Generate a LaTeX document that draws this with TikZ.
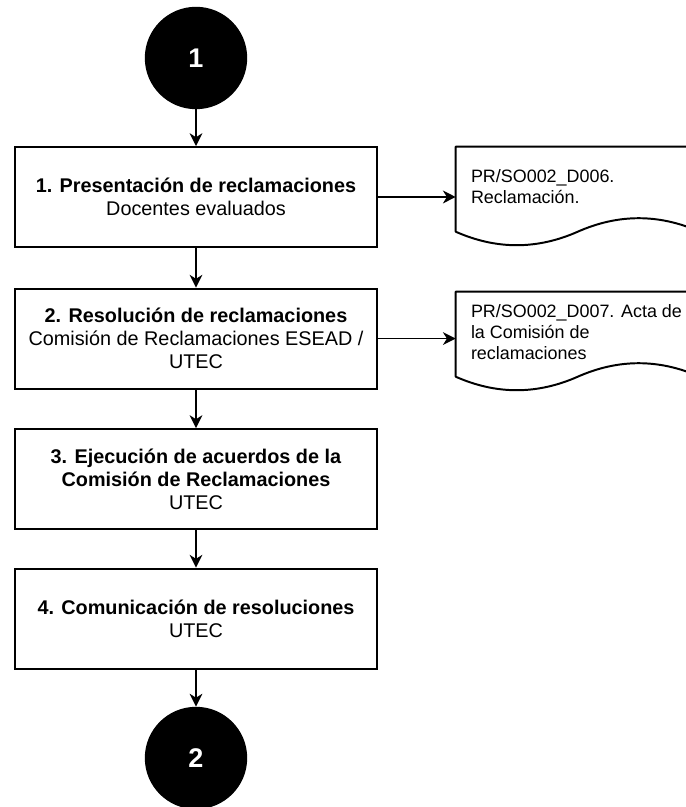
\documentclass[tikz,border=0pt]{standalone}
\usepackage{fontspec}
\setmainfont{Liberation Sans}
\usetikzlibrary{arrows.meta,positioning}

\begin{document}
\begin{tikzpicture}[
  stepbox/.style={draw, line width=1.4pt, minimum width=9.05cm, minimum height=2.5cm, align=center, inner sep=2pt, font=\fontsize{14.1}{16.4}\selectfont},
  connector/.style={circle, fill=black, minimum size=2.56cm, inner sep=0pt, text=white, font=\fontsize{19.2}{22}\selectfont\bfseries},
  docbox/.style={minimum width=6.1cm, minimum height=2.5cm, inner sep=0pt},
  doctext/.style={anchor=west, align=left, inner sep=0pt, font=\fontsize{12.75}{14.9}\selectfont},
  docline/.style={line width=1.4pt, line join=round},
  flow/.style={-{Stealth[length=3.2mm, width=3.2mm, inset=1mm]}, line width=1.1pt}
]
  \useasboundingbox (0,0) rectangle (17.15,20.175);
  % Off-page connectors
  \node[connector] (c1) at (4.9,18.725) {1};
  \node[connector] (c2) at (4.9,1.225) {2};
  % Steps
  \node[stepbox] (b1) at (4.9,15.25) {\textbf{1. Presentación de reclamaciones}\\Docentes evaluados};
  \node[stepbox] (b2) at (4.9,11.71) {\textbf{2. Resolución de reclamaciones}\\Comisión de Reclamaciones ESEAD /\\UTEC};
  \node[stepbox] (b3) at (4.9,8.2) {\textbf{3. Ejecución de acuerdos de la}\\\textbf{Comisión de Reclamaciones}\\UTEC};
  \node[stepbox] (b4) at (4.9,4.71) {\textbf{4. Comunicación de resoluciones}\\UTEC};
  % Documents
  \node[docbox] (d1) at (14.45,15.25) {};
  \node[doctext] (t1) at ([xshift=0.375cm, yshift=0.25cm]d1.west) {PR/SO002\_D006.\\Reclamación.};
  \node[docbox] (d2) at (14.45,11.625) {};
  \node[doctext] (t2) at ([xshift=0.375cm, yshift=0.25cm]d2.west) {PR/SO002\_D007. Acta de\\la Comisión de\\reclamaciones};
  \foreach \d in {d1,d2}
    \draw[docline, shift={(\d.north west)}] (0,0) -- (6.1,0) -- (6.1,-2.125)
      .. controls (5.083,-1.675) and (4.067,-1.675) .. (3.05,-2.125)
      .. controls (2.033,-2.575) and (1.017,-2.575) .. (0,-2.125) -- cycle;
  % Flow
  \draw[flow] (c1) -- (b1);
  \draw[flow] (b1) -- (b2);
  \draw[flow] (b2) -- (b3);
  \draw[flow] (b3) -- (b4);
  \draw[flow] (b4) -- (c2);
  \draw[flow] (b1) -- (d1);
  \draw[flow] (b2.east) -- (d2.west |- b2.east);
\end{tikzpicture}
\end{document}
